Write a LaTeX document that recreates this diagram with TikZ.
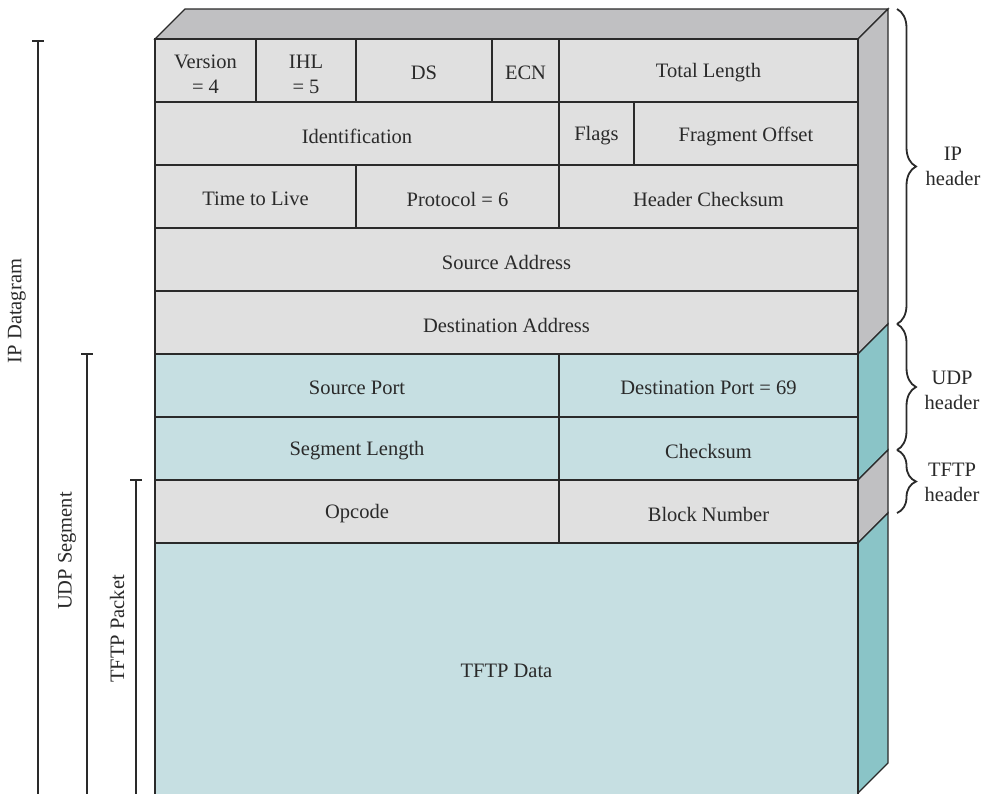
\documentclass[tikz,border=0pt]{standalone}
\usepackage{fontspec}
\setmainfont{Liberation Serif}
\usetikzlibrary{decorations.pathreplacing}
\definecolor{fgray}{HTML}{E0E0E0}
\definecolor{sgray}{HTML}{C0C0C2}
\definecolor{fteal}{HTML}{C6DFE2}
\definecolor{steal}{HTML}{8AC4C7}
\definecolor{edge}{HTML}{2A2A2A}
\begin{document}
\begin{tikzpicture}[x=1pt,y=-1pt,
  every node/.style={font=\fontsize{20.5}{25}\selectfont, text=edge},
  txt/.style={yshift=-2.5pt},
  face/.style={draw=edge, line width=1.3pt, line join=miter},
  cellg/.style={face, fill=fgray},
  cellt/.style={face, fill=fteal},
  bar/.style={draw=edge, line width=2.8pt},
  brc/.style={draw=edge, line width=1.8pt, decorate, decoration={brace, amplitude=19pt}},
  lbl/.style={align=center}]
\path[use as bounding box, clip] (0,0) rectangle (988,793);
% top and side faces
\path[face, fill=sgray] (155,39) -- (185,9) -- (888,9) -- (858,39) -- cycle;
\path[face, fill=sgray] (858,39) -- (888,9) -- (888,324) -- (858,354) -- cycle;
\path[face, fill=steal] (858,354) -- (888,324) -- (888,450) -- (858,480) -- cycle;
\path[face, fill=sgray] (858,480) -- (888,450) -- (888,513) -- (858,543) -- cycle;
\path[face, fill=steal] (858,543) -- (888,513) -- (888,763) -- (858,793) -- cycle;
% row 1
\path[cellg] (155,39) rectangle (256,102);
\path[cellg] (256,39) rectangle (356,102);
\path[cellg] (356,39) rectangle (492,102);
\path[cellg] (492,39) rectangle (559,102);
\path[cellg] (559,39) rectangle (858,102);
\node[lbl, yshift=-4pt] (ver) at (205.5,70.5) {Version\\= 4};
\node[lbl, yshift=-4pt] (ihl) at (306,70.5) {IHL\\= 5};
\node[txt] (ds) at (424,70.5) {DS};
\node[txt] (ecn) at (525.5,70.5) {ECN};
\node[txt] (tl) at (708.5,70.5) {Total Length};
% row 2
\path[cellg] (155,102) rectangle (559,165);
\path[cellg] (559,102) rectangle (634,165);
\path[cellg] (634,102) rectangle (858,165);
\node[txt] (id) at (357,133.5) {Identification};
\node[txt] (fl) at (596.5,133.5) {Flags};
\node[txt] (fo) at (746,133.5) {Fragment Offset};
% row 3
\path[cellg] (155,165) rectangle (356,228);
\path[cellg] (356,165) rectangle (559,228);
\path[cellg] (559,165) rectangle (858,228);
\node[txt] (ttl) at (255.5,196.5) {Time to Live};
\node[txt] (pr) at (457.5,196.5) {Protocol = 6};
\node[txt] (hc) at (708.5,196.5) {Header Checksum};
% row 4-5
\path[cellg] (155,228) rectangle (858,291);
\node[txt] (sa) at (506.5,259.5) {Source Address};
\path[cellg] (155,291) rectangle (858,354);
\node[txt] (da) at (506.5,322.5) {Destination Address};
% UDP rows
\path[cellt] (155,354) rectangle (559,417);
\path[cellt] (559,354) rectangle (858,417);
\node[txt] (sp) at (357,385.5) {Source Port};
\node[txt] (dp) at (708.5,385.5) {Destination Port = 69};
\path[cellt] (155,417) rectangle (559,480);
\path[cellt] (559,417) rectangle (858,480);
\node[txt] (sl) at (357,448.5) {Segment Length};
\node[txt] (cs) at (708.5,448.5) {Checksum};
% TFTP header
\path[cellg] (155,480) rectangle (559,543);
\path[cellg] (559,480) rectangle (858,543);
\node[txt] (op) at (357,511.5) {Opcode};
\node[txt] (bn) at (708.5,511.5) {Block Number};
% data
\path[cellt] (155,543) rectangle (858,820);
\node[txt] (td) at (506.5,668) {TFTP Data};
% left bars
\coordinate (ipt) at (38,41);
\coordinate (ipb) at (38,800);
\coordinate (udt) at (87,354);
\coordinate (udb) at (87,800);
\coordinate (tft) at (136,480);
\coordinate (tfb) at (136,800);
\draw[bar] (ipt) -- (ipb);
\draw[bar] ([xshift=-6pt]ipt) -- ([xshift=6pt]ipt);
\draw[bar] (udt) -- (udb);
\draw[bar] ([xshift=-6pt]udt) -- ([xshift=6pt]udt);
\draw[bar] (tft) -- (tfb);
\draw[bar] ([xshift=-6pt]tft) -- ([xshift=6pt]tft);
\node[rotate=90] (ipl) at (17,311) {IP Datagram};
\node[rotate=90] (udl) at (67,551) {UDP Segment};
\node[rotate=90] (tfl) at (117,629) {TFTP Packet};
% braces
\coordinate (b1) at (897,9);
\coordinate (b2) at (897,324);
\coordinate (b3) at (897,450);
\coordinate (b4) at (897,513);
\draw[brc] (b1) -- (b2);
\draw[brc] (b2) -- (b3);
\draw[brc] (b3) -- (b4);
\node[lbl] (iph) at (953,166) {IP\\header};
\node[lbl] (udh) at (952,390) {UDP\\header};
\node[lbl] (tfh) at (952,482) {TFTP\\header};
\end{tikzpicture}
\end{document}
